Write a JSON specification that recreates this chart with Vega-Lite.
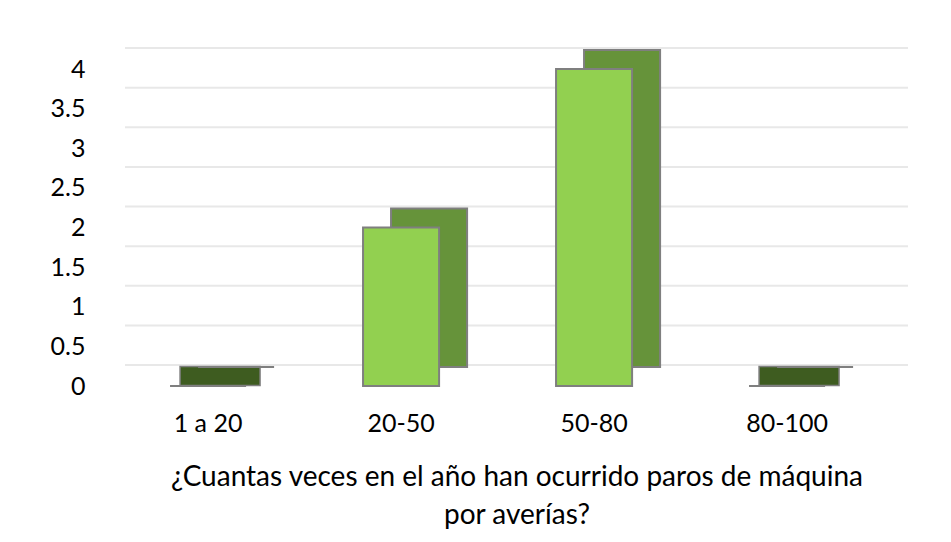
{
  "$schema": "https://vega.github.io/schema/vega-lite/v6.json",
  "width": 783,
  "height": 317,
  "autosize": {"type": "none"},
  "padding": {"left": 125, "top": 69, "right": 43, "bottom": 156},
  "background": "white",
  "config": {
    "view": {"stroke": null},
    "font": "Lato",
    "axisY": {"labelOverlap": false, "format": "~g", "values": [0, 0.5, 1, 1.5, 2, 2.5, 3, 3.5, 4], "domain": false, "ticks": false, "grid": false, "labelFontSize": 25, "labelColor": "#000000", "labelPadding": 40, "labelFont": "Lato"}
  },
  "datasets": {
    "bars": [
      {"rango": "1 a 20", "veces": 0},
      {"rango": "20-50", "veces": 2},
      {"rango": "50-80", "veces": 4},
      {"rango": "80-100", "veces": 0}
    ],
    "grid": [
      {"v": 0}, {"v": 0.5}, {"v": 1}, {"v": 1.5}, {"v": 2},
      {"v": 2.5}, {"v": 3}, {"v": 3.5}, {"v": 4}
    ]
  },
  "layer": [
    {
      "data": {"name": "grid"},
      "mark": {"type": "rule", "color": "#e8e8e8", "strokeWidth": 2, "yOffset": -21},
      "encoding": {
        "y": {
          "field": "v", "type": "quantitative",
          "scale": {"domain": [0, 4], "nice": false, "zero": true},
          "axis": {
            "title": null, "values": [0, 0.5, 1, 1.5, 2, 2.5, 3, 3.5, 4],
            "format": "~g", "labelOverlap": false
          }
        }
      }
    },
    {
      "data": {"name": "bars"},
      "transform": [{"filter": "datum.veces == 0"}],
      "mark": {"type": "tick", "color": "#3e5c20", "opacity": 1, "size": 80, "thickness": 19, "xOffset": 12, "yOffset": -10, "stroke": "#7f7f7f", "strokeWidth": 1.5},
      "encoding": {
        "x": {"field": "rango", "type": "nominal", "sort": ["1 a 20", "20-50", "50-80", "80-100"]},
        "y": {"field": "veces", "type": "quantitative", "axis": {"title": null, "values": [0, 0.5, 1, 1.5, 2, 2.5, 3, 3.5, 4], "format": "~g", "labelOverlap": false}}
      }
    },
    {
      "data": {"name": "bars"},
      "mark": {"type": "bar", "color": "#66933a", "stroke": "#7f7f7f", "strokeWidth": 2, "xOffset": 28, "yOffset": -19},
      "encoding": {
        "x": {"field": "rango", "type": "nominal", "sort": ["1 a 20", "20-50", "50-80", "80-100"]},
        "y": {"field": "veces", "type": "quantitative", "axis": {"title": null, "values": [0, 0.5, 1, 1.5, 2, 2.5, 3, 3.5, 4], "format": "~g", "labelOverlap": false}}
      }
    },
    {
      "data": {"name": "bars"},
      "mark": {"type": "bar", "color": "#92d050", "stroke": "#7f7f7f", "strokeWidth": 2},
      "encoding": {
        "x": {
          "field": "rango", "type": "nominal", "sort": ["1 a 20", "20-50", "50-80", "80-100"],
          "scale": {"type": "band", "paddingInner": 0.606, "paddingOuter": 0.3315, "align": 0.352, "round": false},
          "axis": {
            "title": ["¿Cuantas veces en el año han ocurrido paros de máquina", "por averías?"],
            "labelAngle": 0, "labelAlign": "center", "bandPosition": 0.5, "domain": false, "ticks": false,
            "labelFontSize": 25, "labelPadding": 37, "labelColor": "#000000", "labelFont": "Lato",
            "titleFontSize": 28, "titleFontWeight": "normal", "titlePadding": 27, "titleLineHeight": 38,
            "titleColor": "#000000", "titleFont": "Lato"
          }
        },
        "y": {"field": "veces", "type": "quantitative", "axis": {"title": null, "values": [0, 0.5, 1, 1.5, 2, 2.5, 3, 3.5, 4], "format": "~g", "labelOverlap": false}}
      }
    }
  ]
}
